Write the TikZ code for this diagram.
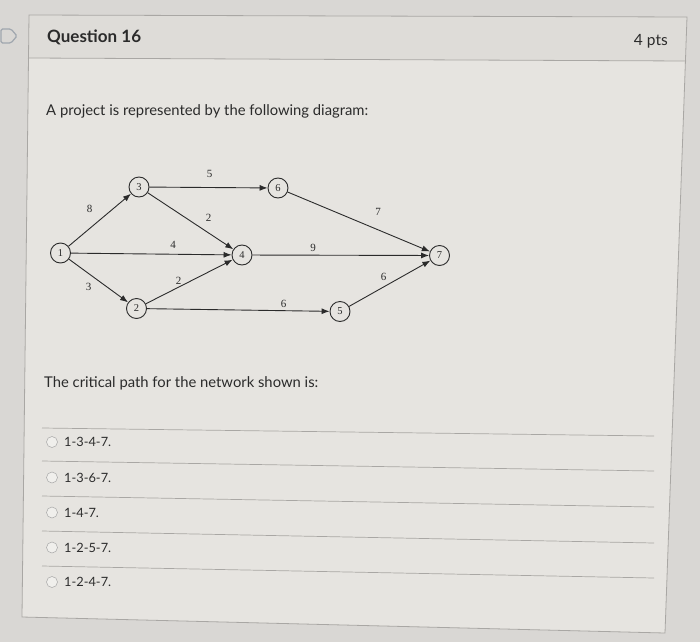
\documentclass[tikz,border=0pt]{standalone}
\usepackage{fontspec}
\setmainfont{Lato}
\newfontfamily\diagfont{Liberation Serif}
\usetikzlibrary{arrows.meta}
\definecolor{pagebg}{HTML}{D9D7D4}
\definecolor{cardbg}{HTML}{E6E4E0}
\definecolor{headbg}{HTML}{DEDCD8}
\definecolor{rulecol}{HTML}{A9A7A4}
\definecolor{txt}{HTML}{2B2B2B}
\definecolor{iconcol}{HTML}{9FA6AE}
\tikzset{
  ev/.style={circle, draw=txt, line width=0.9pt, minimum size=20pt, inner sep=0pt, font=\diagfont\fontsize{10.5}{10.5}\selectfont, text=txt},
  act/.style={draw=txt, line width=0.9pt, -{Latex[length=8pt,width=6pt]}},
  wt/.style={font=\diagfont\fontsize{11}{11}\selectfont, text=txt, inner sep=0pt},
  body/.style={font=\fontsize{14.8}{14.8}\selectfont, text=txt, anchor=west, inner sep=0pt},
  opt/.style={font=\fontsize{12.8}{12.8}\selectfont, text=txt, anchor=west, inner sep=0pt},
  radio/.style={circle, draw=gray!70, fill=cardbg!60!white, line width=0.5pt, minimum size=11pt, inner sep=0pt},
  sep/.style={draw=rulecol, line width=0.7pt}
}
\begin{document}
\begin{tikzpicture}[x=1pt,y=-1pt]
\useasboundingbox (0,0) rectangle (700,642);
\fill[pagebg] (0,0) rectangle (700,642);
% card
\fill[cardbg] (29,15) -- (687,17) -- (665,633) -- (22,617) -- cycle;
\fill[headbg] (29,15) -- (687,17) -- (686,61) -- (28,58) -- cycle;
\draw[rulecol, line width=0.8pt] (29,15) -- (687,17) -- (665,633) -- (22,617) -- cycle;
\draw[rulecol, line width=0.8pt] (28,58) -- (686,61);
% icon
\draw[iconcol, line width=1.2pt, rounded corners=1.5pt] (1,29) -- (11,29) -- (17,36) -- (11,43) -- (1,43) -- cycle;
% header text
\node[font=\bfseries\fontsize{17}{17}\selectfont, text=txt, anchor=west, inner sep=0pt] (qtitle) at (47,37) {Question 16};
\node[font=\fontsize{15.5}{15.5}\selectfont, text=txt, anchor=east, inner sep=0pt] (pts) at (668,41) {4 pts};
\node[body] (intro) at (46,111) {A project is represented by the following diagram:};
% network
\node[ev] (n1) at (60.5,253) {1};
\node[ev] (n3) at (139,187) {3};
\node[ev] (n6) at (278,188) {6};
\node[ev] (n4) at (242,255) {4};
\node[ev] (n7) at (439.5,255.5) {7};
\node[ev] (n2) at (136.5,308.5) {2};
\node[ev] (n5) at (340,311.5) {5};
\draw[act] (n1) -- (n3);
\draw[act] (n1) -- (n4);
\draw[act] (n1) -- (n2);
\draw[act] (n3) -- (n6);
\draw[act] (n3) -- (n4);
\draw[act] (n6) -- (n7);
\draw[act] (n4) -- (n7);
\draw[act] (n2) -- (n4);
\draw[act] (n2) -- (n5);
\draw[act] (n5) -- (n7);
\node[wt] (w13) at (89.5,209) {8};
\node[wt] (w36) at (209.5,174) {5};
\node[wt] (w34) at (208.5,217.5) {2};
\node[wt] (w14) at (173,245) {4};
\node[wt] (w47) at (313,247.5) {9};
\node[wt] (w67) at (378,211.5) {7};
\node[wt] (w12) at (88.5,286.5) {3};
\node[wt] (w24) at (178.5,280.5) {2};
\node[wt] (w25) at (283.5,304) {6};
\node[wt] (w57) at (383.5,276.5) {6};
% question
\node[body] (ask) at (44,383) {The critical path for the network shown is:};
\draw[sep] (42,428) -- (654,436);
\draw[sep] (42,461) -- (654,471);
\draw[sep] (42,496) -- (654,507);
\draw[sep] (42,531) -- (654,543);
\draw[sep] (42,566) -- (654,578);
\node[radio] (r1) at (52,442) {};
\node[opt] (o1) at (64,442) {1-3-4-7.};
\node[radio] (r2) at (52,477.5) {};
\node[opt] (o2) at (64,477.5) {1-3-6-7.};
\node[radio] (r3) at (52,512.5) {};
\node[opt] (o3) at (64,512.5) {1-4-7.};
\node[radio] (r4) at (52,547.5) {};
\node[opt] (o4) at (64,547.5) {1-2-5-7.};
\node[radio] (r5) at (52,582) {};
\node[opt] (o5) at (64,582) {1-2-4-7.};
\end{tikzpicture}
\end{document}
